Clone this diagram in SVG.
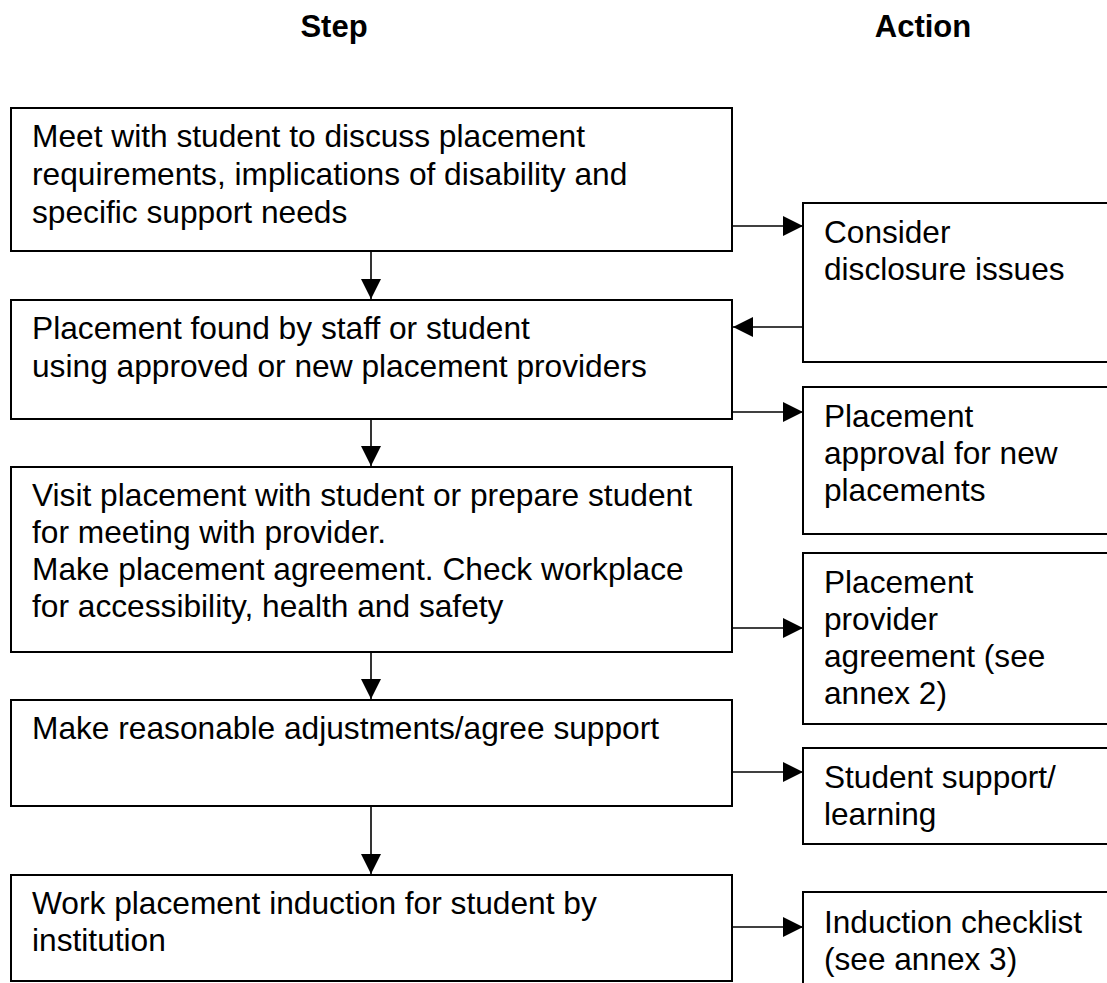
<svg xmlns="http://www.w3.org/2000/svg" width="1107" height="983" viewBox="0 0 1107 983">
<style>
.box{fill:#fff;stroke:#000;stroke-width:2}
.t{font-family:"Liberation Sans",Arial,sans-serif;font-size:31.7px;fill:#000}
.r{font-family:"Liberation Sans",Arial,sans-serif;font-size:31.6px;fill:#000}
.h{font-family:"Liberation Sans",Arial,sans-serif;font-size:31px;font-weight:bold;fill:#000;text-anchor:middle}
.c{stroke:#000;stroke-width:1.6;fill:none}
</style>
<defs>
<marker id="ah" markerUnits="userSpaceOnUse" markerWidth="20" markerHeight="20" refX="20" refY="10" orient="auto" viewBox="0 0 20 20">
<path d="M0,0 L20,10 L0,20 z" fill="#000"/>
</marker>
</defs>
<rect width="1107" height="983" fill="#fff"/>
<g id="headers">
<text class="h" x="334" y="37">Step</text>
<text class="h" x="923" y="37">Action</text>
</g>
<g id="step1"><rect class="box" x="11" y="108" width="721" height="143"/>
<text class="t" x="32" y="147">Meet with student to discuss placement</text>
<text class="t" x="32" y="185">requirements, implications of disability and</text>
<text class="t" x="32" y="223">specific support needs</text></g>
<g id="step2"><rect class="box" x="11" y="300" width="721" height="119"/>
<text class="t" x="32" y="339">Placement found by staff or student</text>
<text class="t" x="32" y="377">using approved or new placement providers</text></g>
<g id="step3"><rect class="box" x="11" y="467" width="721" height="185"/>
<text class="t" x="32" y="506">Visit placement with student or prepare student</text>
<text class="t" x="32" y="543">for meeting with provider.</text>
<text class="t" x="32" y="580">Make placement agreement. Check workplace</text>
<text class="t" x="32" y="617">for accessibility, health and safety</text></g>
<g id="step4"><rect class="box" x="11" y="700" width="721" height="106"/>
<text class="t" x="32" y="739">Make reasonable adjustments/agree support</text></g>
<g id="step5"><rect class="box" x="11" y="875" width="721" height="106"/>
<text class="t" x="32" y="914">Work placement induction for student by</text>
<text class="t" x="32" y="951">institution</text></g>
<g id="action1"><rect class="box" x="803" y="203" width="320" height="159"/>
<text class="r" x="824" y="243">Consider</text>
<text class="r" x="824" y="280">disclosure issues</text></g>
<g id="action2"><rect class="box" x="803" y="387" width="320" height="147"/>
<text class="r" x="824" y="427">Placement</text>
<text class="r" x="824" y="464">approval for new</text>
<text class="r" x="824" y="501">placements</text></g>
<g id="action3"><rect class="box" x="803" y="553" width="320" height="171"/>
<text class="r" x="824" y="593">Placement</text>
<text class="r" x="824" y="630">provider</text>
<text class="r" x="824" y="667">agreement (see</text>
<text class="r" x="824" y="704">annex 2)</text></g>
<g id="action4"><rect class="box" x="803" y="748" width="320" height="96"/>
<text class="r" x="824" y="788">Student support/</text>
<text class="r" x="824" y="825">learning</text></g>
<g id="action5"><rect class="box" x="803" y="892" width="320" height="120"/>
<text class="r" x="824" y="933">Induction checklist</text>
<text class="r" x="824" y="970">(see annex 3)</text></g>
<g id="connectors">
<line class="c" x1="371" y1="251" x2="371" y2="299" marker-end="url(#ah)"/>
<line class="c" x1="371" y1="419" x2="371" y2="466" marker-end="url(#ah)"/>
<line class="c" x1="371" y1="652" x2="371" y2="699" marker-end="url(#ah)"/>
<line class="c" x1="371" y1="806" x2="371" y2="874" marker-end="url(#ah)"/>
<line class="c" x1="732" y1="226" x2="803" y2="226" marker-end="url(#ah)"/>
<line class="c" x1="803" y1="327" x2="733" y2="327" marker-end="url(#ah)"/>
<line class="c" x1="732" y1="412" x2="803" y2="412" marker-end="url(#ah)"/>
<line class="c" x1="732" y1="628" x2="803" y2="628" marker-end="url(#ah)"/>
<line class="c" x1="732" y1="772" x2="803" y2="772" marker-end="url(#ah)"/>
<line class="c" x1="732" y1="927" x2="803" y2="927" marker-end="url(#ah)"/>
</g>
</svg>
